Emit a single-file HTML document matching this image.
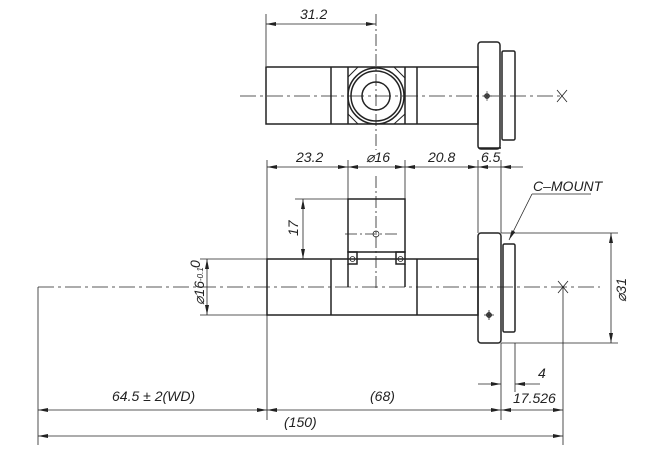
<!DOCTYPE html>
<html><head><style>
html,body{margin:0;padding:0;background:#fff;}
svg{display:block}
text{font-family:"Liberation Sans",sans-serif;font-style:italic;font-size:14px;fill:#222}
</style></head><body>
<svg width="650" height="449" viewBox="0 0 650 449" xmlns="http://www.w3.org/2000/svg">
<defs>
<marker id="a" viewBox="0 0 10 4" refX="10" refY="2" markerWidth="10" markerHeight="4" orient="auto-start-reverse" markerUnits="userSpaceOnUse"><path d="M0,0 L10,2 L0,4z" fill="#222"/></marker>
</defs>
<g stroke="#222" fill="none">
<g stroke-width="0.8">
<line x1="266" y1="14" x2="266" y2="66"/>
<line x1="376" y1="14" x2="376" y2="150" stroke-dasharray="12,3,2,3"/>
<line x1="266" y1="24" x2="376" y2="24" marker-start="url(#a)" marker-end="url(#a)"/>
<line x1="240" y1="96" x2="560" y2="96" stroke-dasharray="16,4,3,4"/>
<path d="M557,90 L567,102 M567,90 L557,102"/>
</g>
<g stroke-width="1.5">
<rect x="266" y="67" width="212" height="57"/>
<line x1="331" y1="67" x2="331" y2="124"/>
<line x1="348" y1="67" x2="348" y2="124"/>
<line x1="405" y1="67" x2="405" y2="124"/>
<line x1="417" y1="67" x2="417" y2="124"/>
<circle cx="376" cy="96" r="28"/>
<circle cx="376" cy="96" r="25"/>
<circle cx="376" cy="96" r="14"/>
<path d="M348,77 L358,67 M394,67 L405,78 M348,114 L358,124 M394,124 L405,114" stroke-width="1"/>
<rect x="478" y="42" width="22" height="107" rx="3"/>
<rect x="502" y="51" width="13" height="89" rx="1.5"/>
</g>
<circle cx="487" cy="96" r="2.5" fill="#555" stroke-width="0.6"/>
<path d="M482,96 H492 M487,91 V101" stroke-width="0.6"/>

<g stroke-width="0.8">
<line x1="267" y1="160" x2="267" y2="259"/>
<line x1="348" y1="160" x2="348" y2="199"/>
<line x1="405" y1="160" x2="405" y2="199"/>
<line x1="478" y1="160" x2="478" y2="233"/>
<line x1="501" y1="160" x2="501" y2="233"/>
<line x1="267" y1="167" x2="348" y2="167" marker-start="url(#a)" marker-end="url(#a)"/>
<line x1="348" y1="167" x2="405" y2="167" marker-start="url(#a)" marker-end="url(#a)"/>
<line x1="405" y1="167" x2="478" y2="167" marker-start="url(#a)" marker-end="url(#a)"/>
<line x1="478" y1="167" x2="501" y2="167" marker-start="url(#a)"/>
<line x1="501" y1="167" x2="523" y2="167" marker-start="url(#a)"/>
<line x1="479" y1="148" x2="501" y2="148" stroke-width="1.4"/>
<line x1="295" y1="199" x2="348" y2="199"/>
<line x1="303" y1="199" x2="303" y2="259" marker-start="url(#a)" marker-end="url(#a)"/>
<line x1="200" y1="259" x2="267" y2="259"/>
<line x1="200" y1="315" x2="267" y2="315"/>
<line x1="207" y1="259" x2="207" y2="315" marker-start="url(#a)" marker-end="url(#a)"/>
<line x1="501" y1="233" x2="618" y2="233"/>
<line x1="501" y1="343" x2="618" y2="343"/>
<line x1="611" y1="233" x2="611" y2="343" marker-start="url(#a)" marker-end="url(#a)"/>
<line x1="532" y1="194" x2="591" y2="194"/>
<line x1="532" y1="194" x2="509" y2="240" marker-end="url(#a)"/>
<line x1="38" y1="287" x2="600" y2="287" stroke-dasharray="16,4,3,4"/>
<line x1="376" y1="176" x2="376" y2="288" stroke-dasharray="12,3,2,3"/>
<line x1="345" y1="234" x2="397" y2="234" stroke-dasharray="12,3,2,3"/>
<path d="M558,281 L568,293 M568,281 L558,293"/>
<line x1="38" y1="287" x2="38" y2="445"/>
<line x1="563" y1="287" x2="563" y2="445"/>
<line x1="267" y1="315" x2="267" y2="420"/>
<line x1="501" y1="343" x2="501" y2="420"/>
<line x1="515" y1="343" x2="515" y2="392"/>
<line x1="478" y1="384" x2="501" y2="384" marker-end="url(#a)"/>
<line x1="540" y1="384" x2="515" y2="384" marker-end="url(#a)"/>
<line x1="38" y1="410" x2="267" y2="410" marker-start="url(#a)" marker-end="url(#a)"/>
<line x1="267" y1="410" x2="501" y2="410" marker-start="url(#a)" marker-end="url(#a)"/>
<line x1="501" y1="410" x2="563" y2="410" marker-start="url(#a)" marker-end="url(#a)"/>
<line x1="38" y1="436" x2="563" y2="436" marker-start="url(#a)" marker-end="url(#a)"/>
</g>
<g stroke-width="1.5">
<rect x="348" y="199" width="57" height="53"/>
<rect x="348" y="252" width="9" height="12"/>
<rect x="396" y="252" width="9" height="12"/>
<rect x="267" y="259" width="211" height="56"/>
<line x1="331" y1="259" x2="331" y2="315"/>
<line x1="417" y1="259" x2="417" y2="315"/>
<line x1="348" y1="264" x2="348" y2="287"/>
<line x1="405" y1="264" x2="405" y2="287"/>
<rect x="478" y="233" width="23" height="110" rx="3"/>
<rect x="503" y="244" width="12" height="88" rx="1.5"/>
</g>
<g stroke-width="0.8">
<circle cx="376" cy="234" r="3"/>
<circle cx="352.5" cy="259" r="2.5"/><line x1="349" y1="259" x2="356" y2="259"/>
<circle cx="400.5" cy="259" r="2.5"/><line x1="397" y1="259" x2="404" y2="259"/>
<circle cx="489" cy="315" r="2.5" fill="#555"/>
<path d="M484,315 H494 M489,310 V320"/>
</g>
</g>
<text x="300" y="19">31.2</text>
<text x="296" y="162">23.2</text>
<text x="366" y="162" font-size="13">⌀16</text>
<text x="428" y="162">20.8</text>
<text x="481" y="162">6.5</text>
<text x="533" y="191">C–MOUNT</text>
<text transform="translate(298,236) rotate(-90)">17</text>
<text transform="translate(204,305) rotate(-90)" font-size="13">⌀16<tspan font-size="8" dy="-1">-0.1</tspan></text>
<text transform="translate(200,268) rotate(-90)" font-size="8">0</text>
<text transform="translate(626,302) rotate(-90)" font-size="13">⌀31</text>
<text x="538" y="378">4</text>
<text x="513" y="403" font-size="13">17.526</text>
<text x="112" y="401">64.5 ± 2(WD)</text>
<text x="370" y="401">(68)</text>
<text x="284" y="427">(150)</text>
</svg>
</body></html>
